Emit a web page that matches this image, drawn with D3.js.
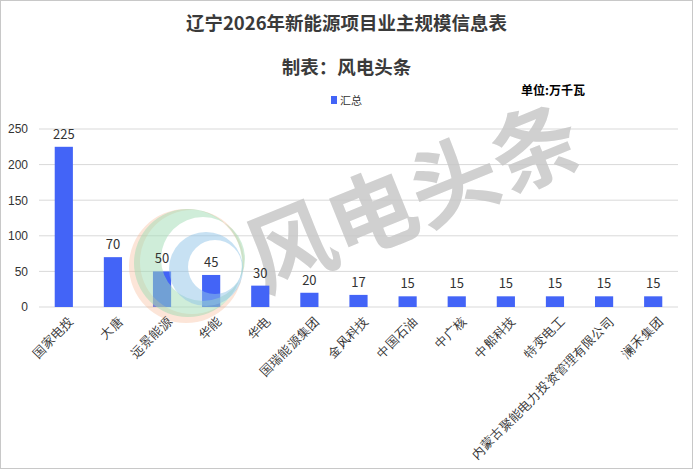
<!DOCTYPE html>
<html>
<head>
<meta charset="utf-8">
<script src="https://cdn.jsdelivr.net/npm/d3@7"></script>
<style>
  body { margin: 0; background: #fff; }
  svg { display: block; font-family: "Noto Sans CJK SC", "Noto Sans", sans-serif; }
</style>
</head>
<body>
<svg id="chart"></svg>
<script>
const categories = ["国家电投", "大唐", "远景能源", "华能", "华电", "国瑞能源集团", "金风科技",
  "中国石油", "中广核", "中船科技", "特变电工", "内蒙古聚能电力投资管理有限公司", "澜禾集团"];
const values = [225, 70, 50, 45, 30, 20, 17, 15, 15, 15, 15, 15, 15];
const yTicks = [0, 50, 100, 150, 200, 250];

const width = 693, height = 469;
const margin = { top: 129, right: 15, bottom: 162, left: 39 };

const svg = d3.select("#chart").attr("width", width).attr("height", height);

svg.append("rect")
  .attr("x", 0.5).attr("y", 0.5)
  .attr("width", width - 1).attr("height", height - 1)
  .attr("fill", "#fff").attr("stroke", "#c8c8c8");

const x = d3.scaleBand()
  .domain(categories)
  .range([margin.left, width - margin.right])
  .paddingInner(0.63).paddingOuter(0.32);

const y = d3.scaleLinear()
  .domain([0, 250])
  .range([height - margin.bottom, margin.top]);

// grid
svg.append("g")
  .selectAll("line")
  .data(yTicks)
  .join("line")
  .attr("x1", margin.left).attr("x2", width - margin.right)
  .attr("y1", d => y(d)).attr("y2", d => y(d))
  .attr("stroke", "#d9d9d9");

// y axis
const yAxis = svg.append("g")
  .attr("transform", "translate(" + (margin.left - 8) + ",0)")
  .call(d3.axisLeft(y).tickValues(yTicks).tickSize(0));
yAxis.select(".domain").remove();
yAxis.selectAll("text").attr("font-size", 12).attr("fill", "#333");

// watermark text
svg.append("text")
  .attr("transform", "translate(416,205) rotate(-22)")
  .attr("text-anchor", "middle")
  .attr("dominant-baseline", "middle")
  .attr("font-size", 88)
  .attr("font-weight", "bold")
  .attr("fill", "#c8c8c8")
  .attr("opacity", 0.85)
  .text("风电头条");

// bars
svg.append("g")
  .attr("fill", "#4364f7")
  .selectAll("rect")
  .data(values)
  .join("rect")
  .attr("x", (d, i) => x(categories[i]))
  .attr("y", d => y(d))
  .attr("width", x.bandwidth())
  .attr("height", d => y(0) - y(d));

// watermark logo (crescents, drawn over the bars)
function crescent(cx, cy, r, ix, iy, ir) {
  const p = d3.path();
  p.moveTo(cx + r, cy); p.arc(cx, cy, r, 0, 2 * Math.PI);
  p.moveTo(ix + ir, iy); p.arc(ix, iy, ir, 0, 2 * Math.PI);
  return p.toString();
}
const logo = svg.append("g").attr("fill-rule", "evenodd");
logo.append("path")
  .attr("d", crescent(186, 266, 57, 192, 262, 52))
  .attr("fill", "#f7b48f").attr("opacity", 0.35);
logo.append("path")
  .attr("d", crescent(188, 263, 54, 203, 259, 42))
  .attr("fill", "#9fdcb4").attr("opacity", 0.5);
logo.append("path")
  .attr("d", crescent(206, 269, 37, 215, 267, 27))
  .attr("fill", "#8fc3e8").attr("opacity", 0.5);

// value labels
svg.append("g")
  .selectAll("text")
  .data(values)
  .join("text")
  .attr("x", (d, i) => x(categories[i]) + x.bandwidth() / 2)
  .attr("y", d => y(d) - 8)
  .attr("text-anchor", "middle")
  .attr("font-size", 13)
  .attr("fill", "#333")
  .text(d => d);

// x axis labels
const xAxis = svg.append("g")
  .attr("transform", "translate(0," + y(0) + ")")
  .call(d3.axisBottom(x).tickSize(0).tickSizeOuter(0));
xAxis.select(".domain").remove();
xAxis.selectAll("text")
  .attr("font-size", 12.5)
  .attr("fill", "#333")
  .attr("text-anchor", "end")
  .attr("dy", "0.3em")
  .attr("transform", "translate(6,10) rotate(-45)");

// titles
svg.append("text")
  .attr("x", width / 2).attr("y", 30)
  .attr("text-anchor", "middle")
  .attr("font-size", 18.5).attr("font-weight", "bold").attr("fill", "#3a3a3a")
  .text("辽宁2026年新能源项目业主规模信息表");
svg.append("text")
  .attr("x", width / 2).attr("y", 74)
  .attr("text-anchor", "middle")
  .attr("font-size", 18.5).attr("font-weight", "bold").attr("fill", "#3a3a3a")
  .text("制表：风电头条");
svg.append("text")
  .attr("x", 521).attr("y", 95)
  .attr("font-size", 12).attr("font-weight", "bold").attr("fill", "#000")
  .text("单位:万千瓦");

// legend
svg.append("rect")
  .attr("x", 331).attr("y", 96).attr("width", 6).attr("height", 8)
  .attr("fill", "#4364f7");
svg.append("text")
  .attr("x", 340).attr("y", 105)
  .attr("font-size", 11).attr("fill", "#333")
  .text("汇总");
</script>
</body>
</html>
